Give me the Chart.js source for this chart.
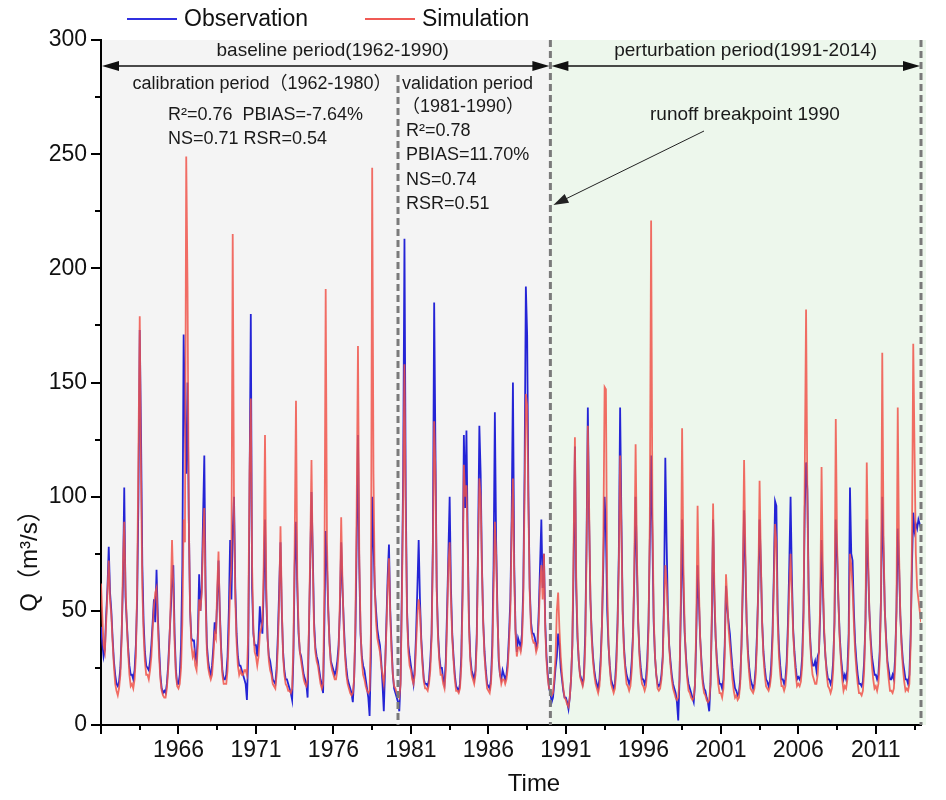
<!DOCTYPE html>
<html>
<head>
<meta charset="utf-8">
<title>Observed vs simulated runoff</title>
<script src="https://cdn.jsdelivr.net/npm/chart.js@4.4.0/dist/chart.umd.min.js"></script>
<style>
  html, body { margin: 0; padding: 0; background: #fff; }
  #wrap { width: 946px; height: 800px; }
</style>
</head>
<body>
<div id="wrap"><canvas id="qChart" width="946" height="800"></canvas></div>
<script>
// monthly runoff, Jan..Dec, one row per year from 1962
const startYear = 1962;
const observed = [
  43, 36, 30, 33, 48, 60, 78, 58, 50, 38, 28, 22,      // 1962
  18, 17, 19, 25, 40, 62, 104, 56, 45, 34, 26, 22,
  22, 20, 24, 35, 55, 100, 173, 127, 70, 45, 32, 26,
  25, 24, 28, 35, 45, 55, 45, 68, 48, 34, 22, 16,
  14, 15, 14, 18, 26, 38, 50, 62, 70, 40, 24, 18,
  18, 22, 35, 70, 171, 135, 110, 150, 90, 50, 38, 37,  // 1967
  37, 30, 28, 40, 66, 50, 60, 90, 118, 60, 35, 28,
  24, 22, 26, 34, 45, 40, 55, 72, 50, 34, 24, 20,
  20, 22, 30, 50, 81, 55, 85, 100, 60, 40, 30, 26,
  26, 24, 22, 20, 18, 11, 30, 100, 180, 60, 40, 35,
  35, 30, 38, 52, 45, 40, 60, 90, 55, 38, 30, 28,      // 1972
  24, 20, 19, 18, 25, 40, 60, 80, 50, 32, 24, 20,
  20, 18, 16, 14, 11, 30, 70, 89, 60, 40, 32, 30,
  26, 22, 20, 18, 12, 40, 70, 102, 75, 45, 34, 30,
  28, 24, 20, 18, 14, 45, 85, 70, 50, 36, 28, 26,
  24, 22, 24, 28, 35, 50, 80, 60, 45, 32, 25, 20,      // 1977
  18, 16, 14, 10, 20, 40, 80, 127, 70, 40, 30, 26,
  24, 20, 16, 12, 4, 30, 100, 80, 60, 50, 42, 38,
  35, 28, 18, 6, 25, 45, 65, 79, 50, 35, 22, 16,
  14, 12, 10, 6, 20, 60, 110, 213, 100, 50, 35, 30,
  26, 22, 18, 25, 40, 60, 81, 55, 38, 28, 20, 18,      // 1982
  18, 17, 20, 28, 40, 80, 185, 120, 60, 40, 30, 25,
  25, 20, 18, 28, 50, 75, 100, 60, 40, 30, 22, 17,
  16, 15, 18, 30, 60, 127, 95, 129, 81, 45, 30, 24,
  22, 20, 24, 40, 80, 131, 110, 70, 45, 32, 24, 18,
  17, 16, 20, 35, 70, 137, 80, 50, 28, 22, 20, 24,     // 1987
  22, 20, 22, 28, 40, 55, 90, 150, 70, 42, 32, 38,
  36, 34, 40, 60, 110, 192, 171, 100, 60, 45, 40, 40,
  38, 34, 36, 50, 70, 90, 60, 75, 45, 30, 22, 16,
  14, 10, 12, 18, 25, 30, 40, 35, 25, 20, 15, 12,
  12, 10, 7, 12, 20, 35, 70, 122, 60, 38, 28, 22,      // 1992
  20, 18, 22, 40, 80, 139, 90, 55, 40, 30, 24, 20,
  18, 16, 20, 30, 45, 70, 100, 85, 50, 35, 26, 20,
  18, 16, 18, 28, 45, 75, 139, 90, 50, 34, 26, 22,
  20, 18, 20, 28, 40, 65, 100, 70, 45, 32, 25, 20,
  20, 18, 20, 28, 45, 80, 118, 83, 45, 30, 22, 18,     // 1997
  17, 18, 22, 30, 55, 117, 80, 50, 35, 28, 22, 18,
  16, 14, 10, 2, 20, 50, 90, 60, 40, 30, 22, 18,
  16, 14, 12, 10, 18, 40, 70, 55, 38, 28, 20, 16,
  15, 12, 10, 6, 18, 45, 90, 55, 38, 28, 22, 18,
  18, 16, 20, 35, 61, 51, 45, 40, 32, 25, 20, 16,      // 2002
  15, 13, 14, 20, 35, 60, 94, 70, 45, 32, 25, 20,
  18, 16, 18, 25, 40, 60, 90, 70, 45, 32, 25, 20,
  19, 17, 19, 26, 40, 65, 98, 96, 50, 34, 26, 20,
  20, 18, 20, 28, 45, 70, 100, 65, 42, 32, 25, 20,
  21, 20, 22, 30, 50, 95, 115, 103, 60, 40, 30, 26,    // 2007
  26, 28, 24, 30, 32, 50, 81, 60, 40, 30, 24, 20,
  20, 18, 20, 28, 45, 90, 75, 55, 40, 30, 24, 20,
  22, 20, 24, 40, 104, 75, 72, 50, 36, 28, 22, 18,
  18, 17, 19, 28, 45, 90, 70, 50, 38, 30, 26, 22,
  22, 20, 22, 32, 55, 100, 75, 50, 38, 28, 24, 20,     // 2012
  20, 22, 20, 30, 50, 86, 70, 48, 36, 28, 24, 20,
  20, 18, 22, 40, 70, 93, 85, 88, 86, 90, 88, 86
];
const simulated = [
  62, 48, 35, 32, 45, 58, 72, 55, 48, 36, 26, 18,      // 1962
  15, 13, 16, 22, 38, 70, 89, 60, 44, 32, 22, 17,
  18, 16, 20, 30, 60, 120, 179, 110, 60, 40, 28, 22,
  22, 20, 24, 30, 42, 52, 58, 60, 45, 30, 20, 15,
  13, 12, 12, 16, 24, 36, 55, 81, 60, 36, 22, 17,
  16, 18, 25, 45, 90, 80, 249, 192, 90, 50, 35, 30,    // 1967
  32, 26, 24, 35, 55, 50, 58, 80, 95, 55, 32, 25,
  22, 20, 22, 30, 40, 38, 60, 76, 48, 32, 22, 18,
  18, 18, 24, 40, 60, 70, 215, 95, 55, 36, 26, 22,
  24, 22, 22, 24, 24, 22, 40, 110, 143, 70, 42, 32,
  30, 26, 30, 40, 42, 45, 70, 127, 60, 38, 28, 24,     // 1972
  22, 18, 17, 16, 22, 35, 55, 87, 52, 30, 22, 18,
  17, 15, 15, 14, 16, 35, 80, 142, 65, 42, 32, 28,
  24, 20, 18, 17, 20, 42, 75, 116, 70, 42, 32, 28,
  26, 22, 18, 16, 18, 60, 191, 80, 50, 35, 27, 24,
  22, 20, 20, 24, 32, 55, 91, 62, 42, 30, 22, 18,      // 1977
  16, 14, 13, 14, 20, 45, 95, 166, 75, 42, 28, 22,
  20, 17, 15, 14, 15, 40, 244, 110, 60, 45, 38, 35,
  32, 26, 22, 18, 25, 42, 60, 73, 48, 32, 22, 17,
  16, 14, 13, 12, 18, 55, 100, 158, 90, 48, 32, 26,
  24, 20, 18, 22, 35, 48, 55, 50, 36, 26, 19, 16,      // 1982
  16, 15, 18, 24, 38, 75, 133, 110, 58, 38, 28, 22,
  22, 18, 16, 24, 45, 70, 80, 55, 38, 28, 20, 15,
  15, 14, 16, 26, 55, 114, 100, 105, 75, 42, 28, 22,
  20, 18, 22, 36, 75, 108, 100, 68, 44, 30, 22, 16,
  15, 14, 18, 30, 60, 89, 75, 48, 30, 22, 18, 20,      // 1987
  20, 18, 20, 25, 36, 50, 85, 108, 65, 40, 30, 34,
  34, 32, 36, 55, 100, 145, 140, 95, 58, 42, 38, 36,
  36, 32, 34, 45, 62, 70, 55, 75, 42, 28, 20, 16,
  15, 13, 14, 20, 30, 50, 58, 42, 30, 22, 16, 12,
  11, 9, 8, 12, 20, 35, 80, 126, 65, 40, 28, 21,       // 1992
  19, 17, 20, 35, 75, 131, 95, 55, 38, 28, 22, 18,
  16, 14, 17, 26, 45, 80, 148, 147, 60, 36, 25, 18,
  16, 14, 16, 24, 42, 70, 118, 85, 48, 32, 24, 18,
  17, 15, 17, 24, 38, 70, 123, 75, 45, 30, 22, 18,
  17, 15, 17, 24, 42, 90, 221, 95, 48, 30, 22, 16,     // 1997
  15, 16, 20, 28, 50, 70, 62, 48, 34, 26, 20, 16,
  14, 12, 11, 12, 20, 55, 130, 70, 42, 28, 20, 15,
  14, 12, 11, 12, 18, 45, 96, 60, 38, 26, 18, 14,
  13, 11, 10, 11, 18, 48, 97, 60, 38, 26, 18, 14,
  14, 12, 16, 30, 66, 55, 42, 35, 28, 20, 15, 12,      // 2002
  13, 11, 12, 18, 35, 65, 116, 75, 45, 30, 22, 16,
  15, 14, 16, 22, 36, 60, 107, 72, 44, 30, 22, 17,
  16, 15, 17, 22, 36, 60, 88, 80, 46, 30, 22, 17,
  17, 15, 17, 24, 40, 60, 75, 58, 40, 30, 22, 17,
  18, 17, 19, 26, 45, 111, 182, 100, 55, 38, 28, 22,   // 2007
  20, 18, 18, 22, 32, 55, 113, 65, 42, 30, 22, 17,
  16, 14, 16, 24, 45, 134, 80, 55, 38, 28, 20, 15,
  17, 16, 20, 34, 75, 70, 60, 45, 32, 24, 18, 14,
  14, 13, 15, 24, 45, 115, 75, 50, 36, 26, 20, 16,
  17, 15, 18, 28, 55, 163, 80, 50, 36, 26, 20, 15,     // 2012
  15, 14, 16, 26, 50, 139, 75, 48, 34, 25, 19, 15,
  16, 15, 18, 35, 80, 167, 120, 75, 60, 55, 50, 45
];

// x labels sit on every 60th month
const xTickLabels = ['1966', '1971', '1976', '1981', '1986', '1991', '1996', '2001', '2006', '2011'];
const yTickValues = [0, 50, 100, 150, 200, 250, 300];
// month index of the dashed lines: calibration|validation, baseline|perturbation, end
const periodBreaks = [230, 348, 635];
const calibStats = ['R²=0.76  PBIAS=-7.64%', 'NS=0.71 RSR=0.54'];
const validStats = ['R²=0.78', 'PBIAS=11.70%', 'NS=0.74', 'RSR=0.51'];

const FONT = "'Liberation Sans', Arial, 'Noto Sans CJK SC', sans-serif";
const NARROW = "'Liberation Sans Narrow', 'Liberation Sans', Arial, sans-serif";

function arrowHead(ctx, x, y, angle, len, half) {
    ctx.save();
    ctx.translate(x, y);
    ctx.rotate(angle);
    ctx.beginPath();
    ctx.moveTo(0, 0);
    ctx.lineTo(-len, -half);
    ctx.lineTo(-len, half);
    ctx.closePath();
    ctx.fill();
    ctx.restore();
}

function text(ctx, str, x, y, size, align) {
    ctx.font = size + 'px ' + FONT;
    ctx.textAlign = align || 'left';
    ctx.fillText(str, x, y);
}

const decorPlugin = {
    id: 'decor',
    beforeDraw(chart) {
        const { ctx, chartArea: a, scales: { x } } = chart;
        const xb = x.getPixelForValue(periodBreaks[1]);
        ctx.save();
        ctx.fillStyle = '#f4f4f4';
        ctx.fillRect(a.left, a.top, xb - a.left, a.bottom - a.top);
        ctx.fillStyle = '#edf7ec';
        ctx.fillRect(xb, a.top, a.right + 5 - xb, a.bottom - a.top);
        ctx.restore();
    },
    afterDatasetsDraw(chart) {
        const { ctx, chartArea: a, scales: { x } } = chart;
        const [xv, xb, xe] = periodBreaks.map(v => x.getPixelForValue(v));
        ctx.save();

        // dashed period borders
        ctx.strokeStyle = '#7a7a7a';
        ctx.lineWidth = 3;
        ctx.setLineDash([7, 4]);
        [[xv, a.top + 35], [xb, a.top], [xe, a.top]].forEach(([px, top]) => {
            ctx.beginPath();
            ctx.moveTo(px, top);
            ctx.lineTo(px, a.bottom);
            ctx.stroke();
        });
        ctx.setLineDash([]);

        // double arrows for the two periods
        const ay = a.top + 26;
        ctx.strokeStyle = '#111';
        ctx.fillStyle = '#111';
        ctx.lineWidth = 1.5;
        [[a.left + 1, xb - 1], [xb + 1, xe - 1]].forEach(([l, r]) => {
            ctx.beginPath();
            ctx.moveTo(l + 10, ay);
            ctx.lineTo(r - 10, ay);
            ctx.stroke();
            arrowHead(ctx, l, ay, Math.PI, 17, 5);
            arrowHead(ctx, r, ay, 0, 17, 5);
        });

        // texts
        ctx.fillStyle = '#1a1a1a';
        ctx.textBaseline = 'middle';
        text(ctx, 'baseline period(1962-1990)', (a.left + xb) / 2 + 7, 51, 19, 'center');
        text(ctx, 'perturbation period(1991-2014)', (xb + xe) / 2 + 10, 51, 19, 'center');
        text(ctx, 'calibration period（1962-1980）', 262, 84, 18, 'center');
        calibStats.forEach((s, i) => text(ctx, s, 168, 115 + i * 24, 18));
        text(ctx, 'validation period', xv + 4, 84, 18);
        text(ctx, '（1981-1990）', xv + 4, 107, 18);
        validStats.forEach((s, i) => text(ctx, s, xv + 8, 131 + i * 24.5, 18));
        text(ctx, 'runoff breakpoint 1990', 650, 115, 19);

        // arrow pointing at the breakpoint
        ctx.strokeStyle = '#222';
        ctx.fillStyle = '#222';
        ctx.lineWidth = 1;
        const x0 = 704, y0 = 131, x1 = xb + 3, y1 = 205;
        const ang = Math.atan2(y1 - y0, x1 - x0);
        ctx.beginPath();
        ctx.moveTo(x0, y0);
        ctx.lineTo(x1 - 12 * Math.cos(ang), y1 - 12 * Math.sin(ang));
        ctx.stroke();
        arrowHead(ctx, x1, y1, ang, 15, 5);
        ctx.restore();
    },
    afterDraw(chart) {
        const { ctx, chartArea: a, scales: { x, y } } = chart;
        ctx.save();
        // tick marks, major and minor
        ctx.strokeStyle = '#000';
        ctx.lineWidth = 2;
        for (let v = 0; v <= 630; v += 30) {
            const px = Math.round(x.getPixelForValue(v));
            ctx.beginPath();
            ctx.moveTo(px, a.bottom);
            ctx.lineTo(px, a.bottom + (v % 60 === 0 ? 9 : 5));
            ctx.stroke();
        }
        for (let v = 0; v <= 300; v += 25) {
            const py = Math.round(y.getPixelForValue(v));
            ctx.beginPath();
            ctx.moveTo(a.left, py);
            ctx.lineTo(a.left - (v % 50 === 0 ? 10 : 6), py);
            ctx.stroke();
        }

        // legend above the plot
        const spots = [{ l: 127, t: 184 }, { l: 365, t: 422 }];
        ctx.textBaseline = 'middle';
        chart.data.datasets.forEach((ds, i) => {
            const s = spots[i];
            ctx.strokeStyle = ds.legendColor;
            ctx.lineWidth = 2;
            ctx.beginPath();
            ctx.moveTo(s.l, 19);
            ctx.lineTo(s.l + 50, 19);
            ctx.stroke();
            ctx.fillStyle = '#111';
            text(ctx, ds.label, s.t, 20, 23);
        });

        // axis titles
        ctx.fillStyle = '#111';
        text(ctx, 'Time', 534, 784, 24, 'center');
        ctx.translate(30, 555);
        ctx.rotate(-Math.PI / 2);
        text(ctx, 'Q（m³/s）', 0, 0, 24, 'center');
        ctx.restore();
    }
};

new Chart(document.getElementById('qChart'), {
    type: 'line',
    data: {
        datasets: [
            {
                label: 'Observation',
                data: observed.map((v, i) => ({ x: i, y: v })),
                borderColor: '#2424d6',
                legendColor: '#3030e0',
                borderWidth: 1.8,
                pointRadius: 0,
                order: 2
            },
            {
                label: 'Simulation',
                data: simulated.map((v, i) => ({ x: i, y: v })),
                borderColor: 'rgba(240, 84, 74, 0.85)',
                legendColor: '#f05a55',
                borderWidth: 1.8,
                pointRadius: 0,
                order: 1
            }
        ]
    },
    options: {
        responsive: false,
        animation: false,
        events: [],
        layout: { padding: { top: 40, right: 25, left: 0, bottom: 0 } },
        plugins: { legend: { display: false }, tooltip: { enabled: false } },
        scales: {
            x: {
                type: 'linear',
                min: 0,
                max: periodBreaks[2],
                afterFit: s => { s.height = 75; },
                afterBuildTicks: s => { s.ticks = xTickLabels.map((_, i) => ({ value: (i + 1) * 60 })); },
                grid: { display: false, drawTicks: false },
                border: { display: true, color: '#000', width: 2 },
                ticks: {
                    autoSkip: false,
                    maxRotation: 0,
                    padding: 12,
                    color: '#111',
                    font: { family: NARROW, size: 23 },
                    callback: (v, i) => xTickLabels[i]
                }
            },
            y: {
                min: 0,
                max: 300,
                afterFit: s => { s.width = 101; },
                afterBuildTicks: s => { s.ticks = yTickValues.map(v => ({ value: v })); },
                grid: { display: false, drawTicks: false },
                border: { display: true, color: '#000', width: 2 },
                ticks: {
                    padding: 14,
                    color: '#111',
                    font: { family: FONT, size: 23 },
                    callback: v => String(v)
                }
            }
        }
    },
    plugins: [decorPlugin]
});
</script>
</body>
</html>
